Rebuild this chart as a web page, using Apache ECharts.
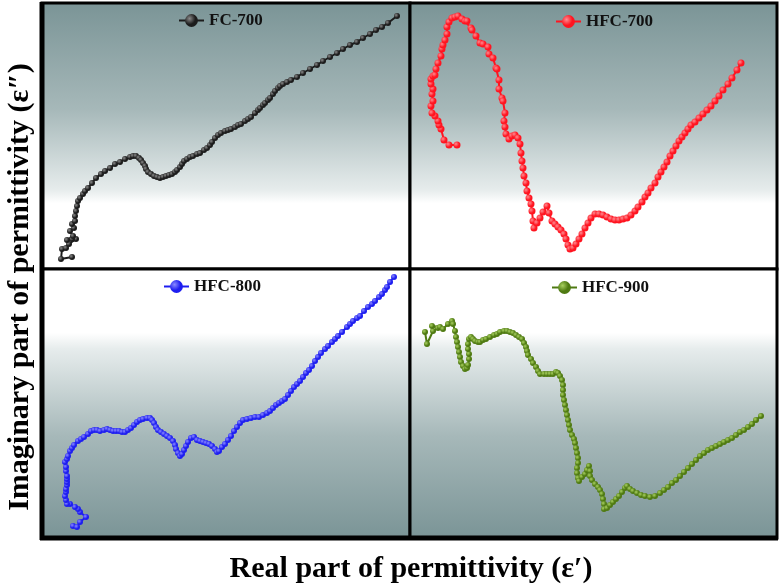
<!DOCTYPE html>
<html>
<head>
<meta charset="utf-8">
<script src="https://cdn.jsdelivr.net/npm/echarts@6/dist/echarts.min.js"></script>
<style>html,body{margin:0;padding:0;background:#fff;}#c{width:782px;height:587px;}</style>
</head>
<body>
<div id="c"></div>
<script>
// Arbitrary units (no ticks in the original); x = real part, y = imaginary part
var seriesNames = ['FC-700', 'HFC-700', 'HFC-800', 'HFC-900'];
var xTitle = 'Real part of permittivity (\u03b5\u2032)';
var yTitle = 'Imaginary part of permittivity (\u03b5\u2033)';

var fc700 = [[30,12],[19,10],[20,20],[24,21],[27,25],[34,30],[30,30],[25,29],[31,33],[28,38],[32,41],[30,45],[33,48],[33,53],[34,58],[35,63],[36,68],[38,71],[41,75],[43,78],[46,81],[50,86],[54,91],[59,95],[63,98],[68,101],[73,105],[78,107],[83,110],[88,112],[91,113],[94,113],[97,111],[99,109],[101,106],[103,103],[104,100],[106,97],[109,95],[112,93],[115,92],[118,91],[121,92],[124,93],[127,94],[130,95],[133,97],[135,99],[138,102],[140,105],[142,108],[145,110],[148,112],[151,113],[155,115],[158,116],[162,119],[165,121],[168,124],[170,127],[173,131],[176,134],[179,136],[183,138],[186,139],[189,140],[193,142],[196,144],[199,145],[203,148],[206,150],[209,152],[213,156],[216,159],[218,161],[221,164],[223,166],[226,169],[228,171],[231,175],[233,178],[236,181],[238,183],[241,185],[245,187],[249,189],[255,192],[261,196],[268,200],[275,204],[281,208],[288,212],[295,216],[301,220],[308,224],[315,227],[321,231],[328,235],[334,239],[340,242],[346,246],[355,253]];

var hfc700 = [[47,124],[39,124],[34,129],[31,140],[29,144],[28,148],[25,153],[22,156],[21,163],[23,168],[22,175],[23,180],[21,185],[21,190],[23,193],[25,194],[26,200],[28,206],[31,213],[32,220],[33,224],[35,229],[37,235],[37,242],[39,247],[42,251],[45,252],[48,253],[52,250],[55,248],[57,248],[61,241],[62,239],[66,233],[70,226],[73,225],[78,222],[79,215],[83,211],[86,201],[87,200],[89,189],[89,180],[92,171],[93,168],[95,156],[94,148],[95,142],[96,135],[99,130],[102,133],[105,134],[108,131],[110,125],[111,116],[112,108],[113,101],[114,93],[116,86],[117,78],[119,71],[121,65],[122,58],[123,48],[124,41],[127,46],[130,51],[133,57],[137,63],[139,56],[142,48],[145,45],[148,42],[151,39],[154,35],[156,30],[158,24],[160,20],[163,21],[166,25],[169,30],[172,35],[175,41],[178,46],[181,51],[185,55],[189,55],[193,54],[197,52],[201,50],[205,49],[209,49],[213,50],[217,51],[221,54],[225,58],[228,62],[232,67],[235,72],[238,76],[241,81],[245,86],[248,92],[251,97],[254,102],[257,107],[260,113],[263,118],[266,123],[269,128],[272,132],[275,136],[278,140],[281,144],[285,147],[289,151],[293,155],[297,159],[301,163],[305,168],[309,173],[313,179],[318,185],[322,191],[327,199],[331,206]];

var hfc800 = [[31,12],[35,11],[38,16],[44,21],[38,26],[36,29],[33,31],[28,34],[25,34],[24,38],[23,42],[24,46],[24,49],[25,53],[25,56],[25,59],[25,62],[24,67],[24,71],[23,76],[25,79],[26,82],[28,87],[30,90],[32,93],[36,97],[39,99],[42,101],[46,104],[49,107],[52,108],[55,108],[58,107],[62,108],[65,109],[68,108],[71,107],[74,107],[77,107],[80,106],[83,106],[86,108],[89,110],[92,113],[95,116],[98,118],[101,119],[105,120],[108,120],[110,118],[112,115],[114,111],[116,108],[119,106],[122,104],[125,102],[128,100],[131,97],[133,93],[134,89],[136,85],[138,82],[140,84],[142,88],[144,92],[146,96],[149,100],[152,101],[155,98],[158,97],[161,96],[164,95],[167,94],[170,92],[173,89],[175,86],[177,87],[180,91],[183,94],[186,98],[189,102],[192,107],[195,111],[198,115],[201,118],[205,119],[209,120],[213,121],[217,121],[221,123],[225,125],[228,127],[231,130],[234,133],[237,135],[240,137],[243,139],[246,143],[249,147],[252,151],[255,154],[258,157],[261,161],[264,165],[267,168],[270,172],[273,177],[276,181],[279,185],[283,189],[286,192],[290,196],[293,199],[296,202],[300,206],[305,211],[308,214],[311,217],[315,220],[318,222],[322,227],[326,231],[330,234],[333,237],[337,241],[340,244],[343,248],[345,251],[348,256],[352,261]];

var hfc900 = [[15,206],[17,194],[23,207],[28,210],[22,212],[30,211],[33,209],[38,214],[42,217],[43,214],[45,207],[46,201],[47,196],[48,191],[49,186],[50,181],[51,176],[53,172],[55,169],[57,170],[58,173],[59,179],[59,184],[58,189],[58,194],[59,199],[61,201],[63,199],[65,197],[68,196],[70,196],[73,198],[76,199],[80,201],[84,203],[87,204],[90,206],[94,207],[97,207],[100,206],[103,205],[106,203],[109,201],[112,199],[114,195],[116,191],[117,187],[118,183],[121,179],[123,175],[126,171],[128,167],[130,164],[134,164],[137,164],[140,164],[143,164],[146,166],[148,165],[150,162],[152,158],[153,153],[153,148],[153,143],[154,138],[155,133],[156,128],[157,123],[158,118],[159,113],[160,108],[162,103],[164,99],[165,95],[166,90],[167,85],[168,80],[168,75],[167,70],[167,65],[168,60],[169,57],[172,61],[175,64],[177,68],[179,72],[180,67],[180,62],[182,58],[185,54],[188,51],[190,48],[192,44],[193,39],[194,34],[194,29],[197,30],[200,33],[203,36],[206,39],[209,42],[212,46],[215,50],[217,52],[220,49],[223,47],[227,45],[231,43],[235,42],[240,41],[245,42],[250,45],[254,48],[258,51],[262,55],[266,58],[270,62],[274,66],[278,70],[282,74],[286,78],[290,82],[294,85],[298,88],[302,90],[306,92],[310,94],[314,96],[318,98],[322,100],[326,103],[330,106],[334,108],[338,111],[342,114],[346,118],[351,122]];

var seriesData = [fc700, hfc700, hfc800, hfc900];
var seriesColors = ['#1c1c1c', '#ff1420', '#1e1ef0', '#4f7a12'];
var seriesHi = ['#8a8a8a', '#ff8a90', '#8a8aff', '#a8d060'];
var symbolSizes = [6, 7, 6, 6];

var chart = echarts.init(document.getElementById('c'), null, {renderer: 'canvas'});

var gray = '#7a9496';
var topBg = {type: 'linear', x: 0, y: 0, x2: 0, y2: 1, colorStops: [
  {offset: 0, color: gray}, {offset: 0.4, color: '#a6b8b9'}, {offset: 0.7, color: '#e6ecec'}, {offset: 0.75, color: '#ffffff'}, {offset: 1, color: '#ffffff'}]};
var botBg = {type: 'linear', x: 0, y: 0, x2: 0, y2: 1, colorStops: [
  {offset: 0, color: '#ffffff'}, {offset: 0.24, color: '#ffffff'}, {offset: 0.3, color: '#e6ecec'}, {offset: 0.62, color: '#a6b8b9'}, {offset: 1, color: gray}]};

var grids = [
  {left: 42, top: 3, width: 368, height: 266, bg: topBg},
  {left: 410, top: 3, width: 367, height: 266, bg: topBg},
  {left: 42, top: 269, width: 368, height: 269, bg: botBg},
  {left: 410, top: 269, width: 367, height: 269, bg: botBg}
];
var legendPos = [[178, 12], [555, 13], [163, 278], [551, 279]];

var option = {
  animation: false,
  backgroundColor: '#ffffff',
  grid: grids.map(function (g) {
    return {left: g.left, top: g.top, width: g.width, height: g.height, show: true,
      backgroundColor: g.bg, borderColor: '#000', borderWidth: 3, containLabel: false};
  }),
  xAxis: grids.map(function (g, i) {
    return {type: 'value', gridIndex: i, min: 0, max: g.width, show: false, splitLine: {show: false}};
  }),
  yAxis: grids.map(function (g, i) {
    return {type: 'value', gridIndex: i, min: 0, max: g.height, show: false, splitLine: {show: false}};
  }),
  legend: seriesNames.map(function (n, i) {
    return {data: [n], left: legendPos[i][0], top: legendPos[i][1], itemWidth: 25, itemHeight: 16, itemGap: 4,
      padding: 0,
      textStyle: {fontFamily: 'Liberation Serif', fontWeight: 'bold', fontSize: 17, color: '#111'}};
  }),
  series: seriesNames.map(function (n, i) {
    var marker = {type: 'radial', x: 0.35, y: 0.35, r: 0.75, colorStops: [
      {offset: 0, color: seriesHi[i]}, {offset: 0.6, color: seriesColors[i]}, {offset: 1, color: seriesColors[i]}]};
    return {name: n, type: 'line', xAxisIndex: i, yAxisIndex: i, data: seriesData[i],
      symbol: 'circle', symbolSize: symbolSizes[i], showAllSymbol: true,
      lineStyle: {color: seriesColors[i], width: 2},
      itemStyle: {color: marker, borderWidth: 0},
      z: 3};
  }),
  graphic: [
    {type: 'line', z: 100, shape: {x1: 42, y1: 2, x2: 42, y2: 540}, style: {stroke: '#000', lineWidth: 5}},
    {type: 'line', z: 100, shape: {x1: 40, y1: 538, x2: 778, y2: 538}, style: {stroke: '#000', lineWidth: 5}},
    {type: 'text', z: 100, x: 411, y: 569, style: {text: xTitle, fontFamily: 'Liberation Serif', fontWeight: 'bold', fontSize: 30,
      fill: '#000', textAlign: 'center', textVerticalAlign: 'middle'}},
    {type: 'text', z: 100, x: 20, y: 287, rotation: Math.PI / 2, style: {text: yTitle, fontFamily: 'Liberation Serif', fontWeight: 'bold', fontSize: 30,
      fill: '#000', textAlign: 'center', textVerticalAlign: 'middle'}}
  ]
};
chart.setOption(option);
</script>
</body>
</html>
